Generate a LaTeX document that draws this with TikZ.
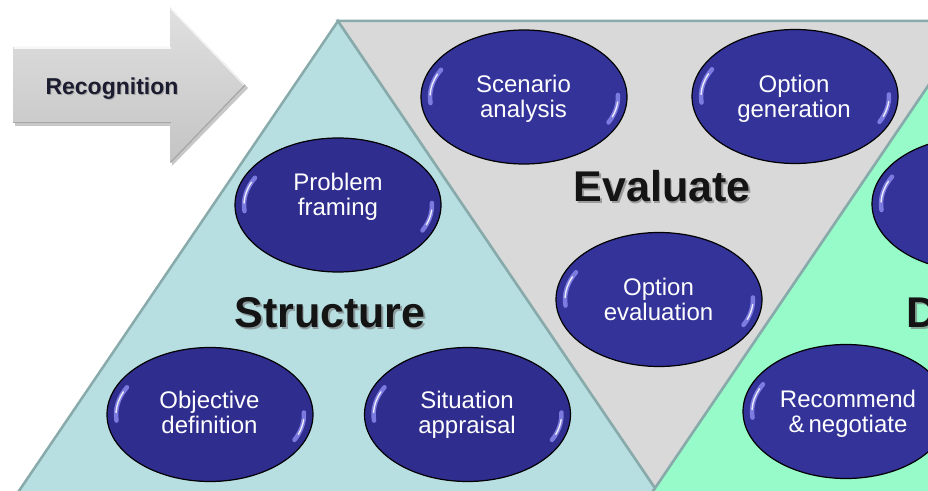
\documentclass[tikz,border=0pt]{standalone}
\usepackage{fontspec}
\setmainfont{Liberation Sans}
\usetikzlibrary{shapes.geometric}
\definecolor{strfill}{HTML}{B7DEE1}
\definecolor{evfill}{HTML}{D9D9D9}
\definecolor{decfill}{HTML}{96FBC8}
\definecolor{edgec}{HTML}{89AAAA}
\definecolor{ellblue}{HTML}{333399}
\definecolor{ellblueS}{HTML}{2F2D8E}
\definecolor{hl}{HTML}{8E8EF2}
\definecolor{arrtop}{HTML}{E0E0E0}
\definecolor{arrbot}{HTML}{C4C4C4}
\tikzset{
  zone/.style={draw=edgec, line width=2.5pt, line join=miter},
  ell/.style={ellipse, minimum width=206pt, minimum height=134pt, inner sep=0pt,
              fill=ellblue, draw=black, line width=1.2pt},
  ellS/.style={ell, fill=ellblueS},
  elltext/.style={anchor=north, inner sep=0pt, align=center, text=white,
                  font=\fontsize{24}{25}\selectfont},
  hlthick/.style={draw=hl, line width=4.5pt, line cap=round, opacity=0.8},
  hlthin/.style={draw=white, line width=1.4pt, line cap=round, opacity=0.85},
  title/.style={font=\bfseries\fontsize{43}{43}\selectfont, text=black!92, inner sep=0pt, anchor=base},
  titleshadow/.style={font=\bfseries\fontsize{43}{43}\selectfont, text=black!55, opacity=0.6, inner sep=0pt, anchor=base},
}
\newcommand\gloss[1]{%
  \draw[hlthick] (#1.center) ++(152:94pt and 58pt) arc[start angle=152,end angle=186,x radius=94pt,y radius=58pt];
  \draw[hlthin]  (#1.center) ++(157:94pt and 58pt) arc[start angle=157,end angle=178,x radius=94pt,y radius=58pt];
  \draw[hlthick] (#1.center) ++(2:94pt and 58pt) arc[start angle=2,end angle=-26,x radius=94pt,y radius=58pt];
  \draw[hlthin]  (#1.center) ++(-5:94pt and 58pt) arc[start angle=-5,end angle=-20,x radius=94pt,y radius=58pt];
}
% #1 style, #2 name, #3 x, #4 y, #5 text x, #6 first baseline, #7 line1, #8 line2
\newcommand\bubble[8]{%
  \node[#1] (#2) at (#3,#4) {};
  \gloss{#2}
  \node[elltext] (#2t) at (#5,#6+17.5) {\strut #7\\\strut #8};
}
\begin{document}
\begin{tikzpicture}[x=1pt,y=1pt]
\useasboundingbox (0,0) rectangle (928,490);
\fill[white] (0,0) rectangle (928,490);
\begin{scope}
\clip (0,0) rectangle (928,490);
% zones
\path[zone, fill=strfill] (338,469) -- (12.8,-10) -- (663.2,-10) -- cycle;
\path[zone, fill=decfill] (972,469) -- (646.8,-10) -- (1297,-10) -- cycle;
\path[zone, fill=evfill] (338,469) -- (972,469) -- (655,2) -- cycle;
% ellipses
\bubble{ellS}{pf}{338}{285}{338}{300}{Problem}{framing}
\bubble{ell}{sa}{524}{393}{523.5}{398}{Scenario}{analysis}
\bubble{ell}{og}{795}{393.5}{794}{398}{Option}{generation}
\bubble{ell}{oe}{659}{190.5}{658.5}{195}{Option}{evaluation}
\bubble{ellS}{od}{210}{75.5}{209.5}{82}{Objective}{definition}
\bubble{ellS}{sp}{467.5}{75.5}{467}{82}{Situation}{appraisal}
\bubble{ell}{rn}{846}{78.5}{848}{83}{Recommend}{\&\,negotiate}
\node[ell] (dc) at (975,286) {};
\gloss{dc}
% titles
\node[titleshadow] at (331.8,160.3) {Structure};
\node[title] (tstructure) at (330,162) {Structure};
\node[titleshadow] at (663.8,286.3) {Evaluate};
\node[title] (tevaluate) at (662,288) {Evaluate};
\node[titleshadow, anchor=base west] at (907.8,160.3) {D};
\node[title, anchor=base west] (tdecide) at (906,162) {D};
% recognition arrow
\fill[black, opacity=0.22] (15,364) -- (172,364) -- (172,324) -- (248,402) -- (172,480) -- (172,440) -- (15,440) -- cycle;
\path[top color=arrtop, bottom color=arrbot] (13,443) -- (170,443) -- (170,483) -- (245,405) -- (170,327) -- (170,367) -- (13,367) -- cycle;
\draw[white, line width=1.5pt, opacity=0.8] (14,442) -- (171,442);
\draw[white, line width=1.2pt, opacity=0.7] (171,481) -- (244,405);
\draw[black!35, line width=1.2pt] (13,367.5) -- (170.5,367.5);
\draw[black!35, line width=1.2pt] (170.5,327.5) -- (245,405);
\node[anchor=base, inner sep=0pt, font=\bfseries\fontsize{23}{23}\selectfont, text=black!45, opacity=0.6] at (113,394) {Recognition};
\node[anchor=base, inner sep=0pt, font=\bfseries\fontsize{23}{23}\selectfont, text={rgb,255:red,28;green,28;blue,48}] (recog) at (112,395) {Recognition};
\end{scope}
\end{tikzpicture}
\end{document}
